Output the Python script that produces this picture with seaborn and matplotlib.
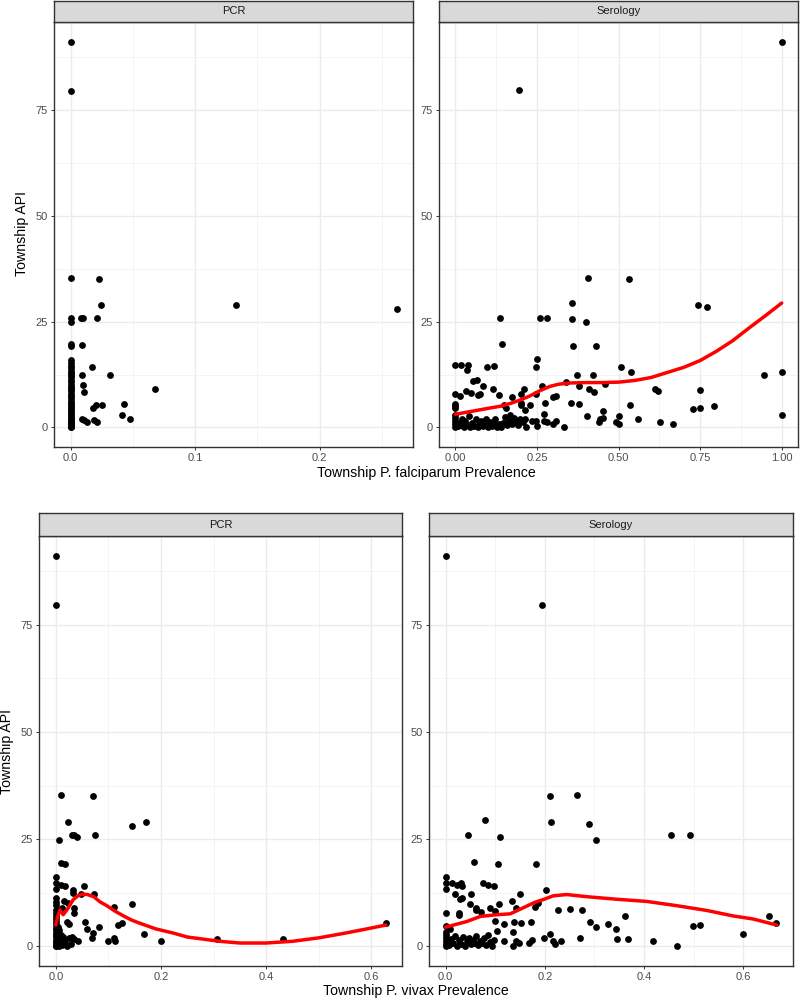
import numpy as np
import pandas as pd
import matplotlib
matplotlib.use('Agg')
import matplotlib.pyplot as plt
import seaborn as sns
from matplotlib.ticker import MultipleLocator, FormatStrFormatter

sns.set_theme(style='white')
plt.rcParams['font.family'] = ['Liberation Sans', 'DejaVu Sans']

# P. falciparum, PCR
pf_pcr_x = [0, 0, 0, 0, 0, 0, 0, 0, 0, 0, 0, 0, 0, 0, 0, 0, 0, 0, 0, 0, 0,
            0, 0, 0, 0, 0, 0, 0, 0, 0, 0, 0, 0, 0, 0, 0, 0, 0, 0, 0, 0,
            0.023, 0.024, 0.133, 0.262, 0.008, 0.010, 0.021, 0.009, 0.017, 0.032,
            0.009, 0.010, 0.011, 0.068, 0.018, 0.020, 0.025, 0.043, 0.041, 0.048,
            0.009, 0.011, 0.013, 0.019, 0.021]
pf_pcr_y = [91.2, 79.5, 35.4, 25.8, 24.8, 19.6, 19.3, 16.0, 15.2, 14.6, 14.0,
            13.4, 12.9, 12.3, 11.8, 11.2, 10.7, 10.1, 9.6, 9.0, 8.5, 8.0, 7.4,
            6.9, 6.3, 5.8, 5.3, 4.8, 4.3, 3.8, 3.3, 2.9, 2.5, 2.1, 1.7, 1.3,
            1.0, 0.7, 0.4, 0.1, 0.0,
            35.0, 29.0, 28.9, 27.9, 25.8, 25.9, 25.8, 19.4, 14.2, 12.4,
            12.4, 10.0, 8.3, 9.1, 4.6, 5.3, 5.3, 5.5, 2.9, 2.1,
            2.0, 1.7, 1.3, 1.7, 1.2]

# P. falciparum, serology
pf_sero_x = [1.0, 0.196, 0.408, 0.531, 0.356, 0.744, 0.770, 0.138, 0.259, 0.281,
             0.358, 0.400, 0.144, 0.362, 0.432, 0.249, 0.247, 0.0, 0.017, 0.039,
             0.037, 0.096, 0.117, 0.509, 0.537, 1.0, 0.947, 0.373, 0.421, 0.053,
             0.066, 0.084, 0.338, 0.380, 0.267, 0.460, 0.116, 0.411, 0.424, 0.209,
             0.201, 0.613, 0.621, 0.750, 0.0, 0.015, 0.032, 0.049, 0.070, 0.076,
             0.133, 0.174, 0.247, 0.300, 0.310, 0.0, 0.0, 0.0, 0.150, 0.155,
             0.200, 0.200, 0.230, 0.276, 0.355, 0.380, 0.535, 0.452, 0.214, 0.728,
             0.750, 0.794, 0.272, 0.404, 0.500, 1.0, 0.443, 0.452, 0.439, 0.560,
             0.492, 0.500, 0.628, 0.667, 0.246, 0.272, 0.280, 0.300, 0.310, 0.250,
             0.333,
             0.0, 0.0, 0.0, 0.0, 0.0, 0.008, 0.012, 0.018, 0.022, 0.027,
             0.031, 0.036, 0.041, 0.046, 0.052, 0.057, 0.062, 0.068, 0.073, 0.079,
             0.084, 0.090, 0.095, 0.100, 0.106, 0.111, 0.117, 0.122, 0.128, 0.133,
             0.139, 0.145, 0.152, 0.158, 0.163, 0.169, 0.175, 0.180, 0.186, 0.193,
             0.199, 0.206, 0.212, 0.217, 0.235]
pf_sero_y = [91.2, 79.7, 35.4, 35.1, 29.5, 28.9, 28.5, 25.9, 25.9, 25.9,
             25.6, 24.8, 19.6, 19.2, 19.2, 16.1, 14.2, 14.7, 14.7, 14.7,
             13.6, 14.2, 14.4, 14.2, 13.2, 13.2, 12.3, 12.3, 12.3, 10.9,
             11.3, 9.9, 10.7, 9.9, 9.9, 10.3, 9.1, 9.1, 8.4, 9.0,
             8.0, 9.1, 8.5, 8.8, 7.9, 7.4, 8.7, 8.1, 7.7, 8.0,
             7.7, 7.3, 8.0, 7.3, 7.4, 5.5, 5.1, 4.7, 5.3, 4.6,
             5.8, 5.3, 5.4, 5.7, 5.7, 5.5, 5.3, 3.9, 4.1, 4.4,
             4.7, 5.1, 3.1, 2.8, 2.8, 2.9, 2.1, 2.2, 1.2, 2.1,
             1.2, 0.8, 1.3, 0.9, 1.4, 1.4, 1.2, 0.8, 1.4, 0.4,
             0.0,
             0.2, 0.8, 1.5, 2.2, 2.9, 0.3, 1.1, 0.5, 2.0, 0.1,
             1.4, 0.6, 2.6, 0.2, 1.0, 0.4, 1.9, 0.1, 0.8, 1.5,
             0.3, 0.6, 2.0, 0.1, 1.2, 0.4, 0.9, 2.1, 0.2, 0.7,
             0.1, 1.1, 2.4, 0.5, 1.6, 2.9, 0.9, 2.2, 1.4, 0.6,
             1.9, 1.2, 2.0, 0.0, 1.4]
pf_sero_smooth_x = [0, 0.05, 0.1, 0.137, 0.17, 0.2, 0.23, 0.26, 0.29, 0.316, 0.35, 0.4,
                    0.45, 0.5, 0.55, 0.6, 0.65, 0.7, 0.75, 0.8, 0.85, 0.9, 0.95, 1.0]
pf_sero_smooth_y = [3.1, 3.8, 4.5, 5.0, 5.7, 6.5, 7.5, 8.7, 9.7, 10.2, 10.5, 10.6,
                    10.6, 10.7, 11.1, 11.8, 13.0, 14.2, 15.8, 18.0, 20.5, 23.5, 26.4, 29.4]

# P. vivax, PCR
pv_pcr_x = [0, 0, 0, 0, 0, 0, 0, 0, 0, 0, 0, 0, 0, 0, 0, 0, 0, 0, 0, 0, 0, 0, 0, 0,
            0.003, 0.004, 0.006, 0.008, 0.010, 0.012, 0.015, 0.018, 0.022, 0.025,
            0.028, 0.005, 0.007,
            0.0095, 0.070, 0.024, 0.172, 0.144, 0.007, 0.030, 0.035, 0.041, 0.075,
            0.0095, 0.017, 0.010, 0.018, 0.053, 0.032, 0.032, 0.048, 0.072, 0.015,
            0.024, 0.145, 0.110, 0.035, 0.034, 0.011, 0.021, 0.026, 0.056, 0.059,
            0.083, 0.119, 0.126, 0.628, 0.070, 0.068, 0.167, 0.014, 0.030, 0.034,
            0.043, 0.100, 0.110, 0.113, 0.200, 0.307, 0.432]
pv_pcr_y = [91.1, 79.6, 16.1, 14.8, 13.4, 11.3, 10.4, 9.6, 8.5, 7.8, 7.1, 6.4,
            5.7, 5.0, 4.4, 3.8, 3.2, 2.6, 2.1, 1.6, 1.1, 0.6, 0.2, 0.0,
            0.5, 1.8, 0.1, 1.2, 2.6, 0.4, 1.5, 0.8, 0.2, 1.9,
            0.6, 4.5, 3.9,
            35.3, 35.1, 29.0, 28.9, 28.0, 24.8, 25.9, 25.9, 25.5, 25.9,
            19.5, 19.3, 14.4, 14.1, 14.2, 13.2, 12.4, 12.2, 12.3, 10.7,
            10.2, 9.9, 9.1, 9.0, 7.9, 8.9, 5.8, 5.3, 5.6, 4.0,
            4.5, 5.0, 5.4, 5.4, 3.1, 1.9, 2.9, 2.3, 2.1, 1.7,
            1.2, 1.2, 2.0, 1.2, 1.2, 1.8, 1.8]
pv_pcr_smooth_x = [0, 0.004, 0.008, 0.014, 0.021, 0.033, 0.042, 0.051, 0.06, 0.072,
                   0.084, 0.097, 0.113, 0.129, 0.145, 0.16, 0.19, 0.224, 0.25, 0.287,
                   0.312, 0.35, 0.4, 0.45, 0.5, 0.55, 0.6, 0.628]
pv_pcr_smooth_y = [5.0, 7.2, 8.5, 7.4, 8.5, 10.9, 11.8, 12.2, 12.1, 11.6,
                   10.4, 9.5, 8.2, 7.1, 6.1, 5.4, 4.1, 3.1, 2.2, 1.6,
                   1.2, 0.8, 0.8, 1.2, 2.0, 3.1, 4.3, 5.0]

# P. vivax, serology
pv_sero_x = [0, 0.195, 0.21, 0.265, 0.079, 0.212, 0.288, 0.304, 0.045, 0.11,
             0.454, 0.493, 0.056, 0.106, 0.182, 0, 0, 0, 0.013, 0.022,
             0.031, 0.032, 0.075, 0.086, 0.098, 0.019, 0.05, 0.15, 0.203, 0.028,
             0.032, 0.133, 0.049, 0.108, 0.062, 0.061, 0.072, 0.089, 0.099, 0.142,
             0.187, 0.18, 0.227, 0.25, 0.274, 0, 0.027, 0.026, 0.361, 0.651,
             0.099, 0.117, 0.138, 0.151, 0.172, 0.29, 0.304, 0.327, 0.343, 0.499,
             0.512, 0.667, 0, 0.009, 0.136, 0.103, 0.211, 0.199, 0.27, 0.6,
             0.345, 0.368, 0.418, 0.466, 0.216, 0.22, 0.233, 0.117, 0.136, 0.142,
             0.148, 0.167, 0.173,
             0, 0, 0, 0, 0, 0, 0.006, 0.010, 0.014, 0.018,
             0.022, 0.026, 0.030, 0.034, 0.038, 0.042, 0.046, 0.050, 0.054, 0.058,
             0.062, 0.066, 0.070, 0.074, 0.078, 0.082, 0.086, 0.090, 0.094, 0.098]
pv_sero_y = [91.1, 79.6, 35.1, 35.4, 29.5, 28.9, 28.6, 24.8, 25.9, 25.5,
             25.9, 25.9, 19.6, 19.3, 19.3, 16.1, 14.8, 13.4, 14.8, 14.4,
             14.8, 14.1, 14.8, 14.4, 14.2, 12.2, 12.2, 12.2, 13.2, 11.1,
             11.4, 10.6, 9.9, 9.9, 9.0, 8.5, 8.0, 8.9, 8.2, 9.0,
             10.1, 9.2, 8.4, 8.7, 8.5, 7.9, 7.8, 7.4, 7.2, 7.2,
             6.0, 5.3, 5.6, 5.4, 5.7, 5.6, 4.5, 5.3, 4.0, 4.7,
             5.1, 5.4, 4.8, 4.0, 3.4, 3.7, 2.9, 1.9, 1.9, 2.9,
             1.7, 1.7, 1.2, 0.2, 1.2, 0.5, 1.2, 1.2, 0.2, 1.3,
             0.9, 0.9, 1.6,
             0.0, 0.6, 1.3, 2.0, 2.7, 3.3, 0.3, 1.7, 0.9, 2.5,
             0.1, 1.4, 0.5, 2.1, 0.2, 1.1, 2.0, 0.6, 1.6, 0.9,
             2.4, 0.3, 1.3, 0.7, 1.9, 0.4, 2.7, 1.0, 0.2, 1.6]
pv_sero_smooth_x = [0, 0.042, 0.07, 0.103, 0.13, 0.156, 0.18, 0.196, 0.217, 0.244,
                    0.284, 0.345, 0.405, 0.466, 0.526, 0.58, 0.62, 0.667]
pv_sero_smooth_y = [4.5, 5.8, 7.0, 7.4, 7.6, 9.0, 10.3, 10.9, 11.8, 12.1,
                    11.6, 11.0, 10.5, 9.5, 8.4, 7.1, 6.4, 5.0]

W, H = 800, 1001
fig = plt.figure(figsize=(W / 100, H / 100), dpi=100)


def box(l, t, r, b):
    return [l / W, 1 - b / H, (r - l) / W, (b - t) / H]


def expand(vals):
    lo, hi = min(vals), max(vals)
    pad = (hi - lo) * 0.05
    return lo - pad, hi + pad


def draw_panel(rect, strip_top, title, x, y, sx, sy, xstep, xfmt):
    l, t, r, b = rect
    ax = fig.add_axes(box(l, t, r, b))
    ax.set_axisbelow(True)
    sns.scatterplot(x=x, y=y, ax=ax, color='black', s=24, linewidth=0, zorder=3)
    allx, ally = list(x), list(y)
    if sx is not None:
        sns.lineplot(x=sx, y=sy, ax=ax, color='#FF0000', linewidth=2.5, zorder=4)
        allx += list(sx)
        ally += list(sy)
    ax.set_xlim(*expand(allx))
    ax.set_ylim(*expand(ally))
    ax.xaxis.set_major_locator(MultipleLocator(xstep))
    ax.xaxis.set_minor_locator(MultipleLocator(xstep / 2))
    ax.xaxis.set_major_formatter(FormatStrFormatter(xfmt))
    ax.yaxis.set_major_locator(MultipleLocator(25))
    ax.yaxis.set_minor_locator(MultipleLocator(12.5))
    ax.grid(which='major', color='#EBEBEB', linewidth=1.0)
    ax.grid(which='minor', color='#F2F2F2', linewidth=0.6)
    ax.tick_params(which='major', bottom=True, left=True, length=2.5, width=0.7,
                   color='#333333', labelcolor='#4D4D4D', labelsize=8, pad=2)
    ax.tick_params(which='minor', bottom=False, left=False)
    for sp in ax.spines.values():
        sp.set_color('#333333')
        sp.set_linewidth(1.0)
    ax.set_xlabel('')
    ax.set_ylabel('')

    st = fig.add_axes(box(l, strip_top, r, t))
    st.set_facecolor('#D9D9D9')
    st.set_xticks([])
    st.set_yticks([])
    for sp in st.spines.values():
        sp.set_color('#333333')
        sp.set_linewidth(1.0)
    st.text(0.5, 0.5, title, ha='center', va='center', fontsize=8,
            color='#1A1A1A', transform=st.transAxes)
    return ax


# top row: P. falciparum
draw_panel((54.3, 22.3, 413.3, 446.7), 0.5, 'PCR', pf_pcr_x, pf_pcr_y,
           None, None, 0.1, '%.1f')
draw_panel((439.0, 22.3, 798.0, 446.7), 0.5, 'Serology', pf_sero_x, pf_sero_y,
           pf_sero_smooth_x, pf_sero_smooth_y, 0.25, '%.2f')
fig.text(426 / W, 1 - 473 / H, 'Township P. falciparum Prevalence',
         ha='center', va='center', fontsize=10.2, color='black')
fig.text(21.7 / W, 1 - 234 / H, 'Township API', ha='center', va='center',
         rotation=90, fontsize=10.2, color='black')

# bottom row: P. vivax
draw_panel((39.3, 536.0, 402.5, 966.0), 513.0, 'PCR', pv_pcr_x, pv_pcr_y,
           pv_pcr_smooth_x, pv_pcr_smooth_y, 0.2, '%.1f')
draw_panel((429.2, 536.0, 793.0, 966.0), 513.0, 'Serology', pv_sero_x, pv_sero_y,
           pv_sero_smooth_x, pv_sero_smooth_y, 0.2, '%.1f')
fig.text(416 / W, 1 - 991 / H, 'Township P. vivax Prevalence',
         ha='center', va='center', fontsize=10.2, color='black')
fig.text(7 / W, 1 - 751 / H, 'Township API', ha='center', va='center',
         rotation=90, fontsize=10.2, color='black')

fig.savefig('out.png', dpi=100, facecolor='white')
